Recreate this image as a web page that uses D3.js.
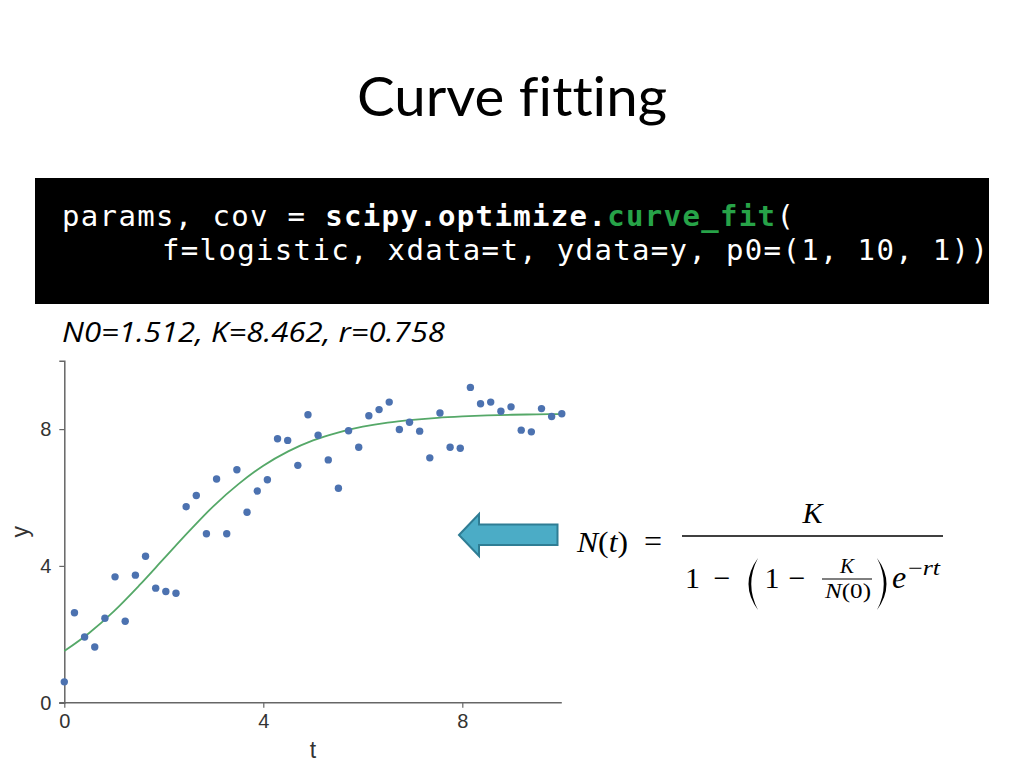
<!DOCTYPE html>
<html>
<head>
<meta charset="utf-8">
<script src="https://cdn.jsdelivr.net/npm/d3@7"></script>
<style>
  body { margin: 0; background: #fff; }
  svg text { white-space: pre; font-variant-ligatures: none; }
</style>
</head>
<body>
<svg id="slide" width="1024" height="768"></svg>
<script>
// observed data points (t, y)
const tValues = [0.000, 0.204, 0.408, 0.612, 0.816, 1.020, 1.224, 1.429, 1.633, 1.837,
                 2.041, 2.245, 2.449, 2.653, 2.857, 3.061, 3.265, 3.469, 3.673, 3.878,
                 4.082, 4.286, 4.490, 4.694, 4.898, 5.102, 5.306, 5.510, 5.714, 5.918,
                 6.122, 6.327, 6.531, 6.735, 6.939, 7.143, 7.347, 7.551, 7.755, 7.959,
                 8.163, 8.367, 8.571, 8.776, 8.980, 9.184, 9.388, 9.592, 9.796, 10.000];
const yValues = [0.61, 2.63, 1.92, 1.63, 2.47, 3.68, 2.38, 3.73, 4.28, 3.35,
                 3.25, 3.20, 5.73, 6.06, 4.94, 6.54, 4.94, 6.81, 5.57, 6.19,
                 6.52, 7.72, 7.67, 6.94, 8.42, 7.82, 7.10, 6.27, 7.95, 7.47,
                 8.39, 8.57, 8.79, 7.99, 8.20, 7.94, 7.16, 8.47, 7.47, 7.44,
                 9.22, 8.74, 8.79, 8.52, 8.65, 7.97, 7.92, 8.60, 8.37, 8.45];

// fitted curve
const fitT = [0, 0.5, 1, 1.5, 2, 2.5, 3, 3.5, 4, 4.5, 5, 5.5, 6, 6.5, 7, 7.5, 8, 8.5, 9, 9.5, 10];
const fitY = [1.51, 2.04, 2.68, 3.42, 4.21, 5.00, 5.75, 6.39, 6.93, 7.35, 7.67, 7.90,
              8.07, 8.19, 8.27, 8.33, 8.37, 8.40, 8.42, 8.43, 8.44];

const xTicks = [0, 4, 8];
const yTicks = [0, 4, 8];

const svg = d3.select("#slide");

// title
svg.append("text")
    .attr("x", 512).attr("y", 116)
    .attr("text-anchor", "middle")
    .attr("font-family", "Lato, 'Open Sans', sans-serif")
    .attr("font-size", 54)
    .attr("textLength", 310).attr("lengthAdjust", "spacingAndGlyphs")
    .attr("fill", "#000")
    .text("Curve fitting");

// code block
svg.append("clipPath").attr("id", "codeClip")
    .append("rect").attr("x", 35).attr("y", 178).attr("width", 954).attr("height", 126);
svg.append("rect")
    .attr("x", 35).attr("y", 178).attr("width", 954).attr("height", 126)
    .attr("fill", "#000");

const code = svg.append("g").attr("clip-path", "url(#codeClip)")
    .attr("font-family", "'DejaVu Sans Mono', 'Liberation Mono', monospace")
    .attr("font-size", 29)
    .attr("letter-spacing", 1.34)
    .attr("fill", "#fff");

const line1 = code.append("text").attr("x", 62).attr("y", 226);
line1.append("tspan").text("params, cov = ");
line1.append("tspan").attr("font-weight", "bold").text("scipy.optimize.");
line1.append("tspan").attr("font-weight", "bold").attr("fill", "#27a348").text("curve_fit");
line1.append("tspan").text("(");

code.append("text").attr("x", 162).attr("y", 260)
    .text("f=logistic, xdata=t, ydata=y, p0=(1, 10, 1))");

// fitted parameters
svg.append("text")
    .attr("x", 62).attr("y", 342)
    .attr("font-family", "'Open Sans', Lato, sans-serif")
    .attr("font-style", "italic")
    .attr("font-size", 28)
    .attr("textLength", 383).attr("lengthAdjust", "spacingAndGlyphs")
    .attr("fill", "#000")
    .text("N0=1.512, K=8.462, r=0.758");

// chart
const x = d3.scaleLinear().domain([0, 10]).range([64.3, 561.8]);
const y = d3.scaleLinear().domain([0, 10]).range([702.7, 360.7]);

const axisColor = "#666";

const gx = svg.append("g").attr("transform", `translate(0,${y(0)})`)
    .call(d3.axisBottom(x).tickValues(xTicks).tickSize(5).tickPadding(6).tickFormat(d3.format("d")));
const gy = svg.append("g").attr("transform", `translate(${x(0)},0)`)
    .call(d3.axisLeft(y).tickValues(yTicks).tickSize(5).tickPadding(8).tickFormat(d3.format("d")));

[gx, gy].forEach(g => {
    g.select(".domain").attr("stroke", axisColor).attr("stroke-width", 1.5);
    g.selectAll(".tick line").attr("stroke", axisColor).attr("stroke-width", 1.2);
    g.selectAll(".tick text")
        .attr("fill", "#333")
        .attr("font-family", "'Liberation Sans', Arial, sans-serif")
        .attr("font-size", 20);
});
gx.select(".domain").attr("d", `M${x(0) - 5},0H${x(10)}`);

svg.append("text")
    .attr("x", (x(0) + x(10)) / 2).attr("y", 758)
    .attr("text-anchor", "middle")
    .attr("font-family", "'Liberation Sans', Arial, sans-serif")
    .attr("font-size", 23).attr("fill", "#333")
    .text("t");
svg.append("text")
    .attr("transform", `translate(28,${(y(0) + y(10)) / 2}) rotate(-90)`)
    .attr("text-anchor", "middle")
    .attr("font-family", "'Liberation Sans', Arial, sans-serif")
    .attr("font-size", 23).attr("fill", "#333")
    .text("y");

const fit = d3.line()
    .x((d, i) => x(fitT[i]))
    .y(d => y(d))
    .curve(d3.curveMonotoneX);
svg.append("path")
    .attr("d", fit(fitY))
    .attr("fill", "none")
    .attr("stroke", "#55a868")
    .attr("stroke-width", 1.8);

svg.append("g").selectAll("circle")
    .data(yValues)
    .join("circle")
    .attr("cx", (d, i) => x(tValues[i]))
    .attr("cy", d => y(d))
    .attr("r", 3.7)
    .attr("fill", "#4c72b0");

// arrow pointing at the plot
svg.append("path")
    .attr("d", "M459,535 L479,514 L479,524.5 L557.5,524.5 L557.5,545 L479,545 L479,556 Z")
    .attr("fill", "#4bacc6")
    .attr("stroke", "#2f7d94")
    .attr("stroke-width", 2)
    .attr("stroke-linejoin", "miter");

// logistic formula
const serif = "'Liberation Serif', 'DejaVu Serif', serif";
const eq = svg.append("g").attr("font-family", serif).attr("fill", "#000");

function mathText(parent, px, py, size, parts, opts = {}) {
    const t = parent.append("text").attr("x", px).attr("y", py).attr("font-size", size);
    if (opts.anchor) t.attr("text-anchor", opts.anchor);
    if (opts.length) t.attr("textLength", opts.length).attr("lengthAdjust", "spacingAndGlyphs");
    parts.forEach(([s, it]) => t.append("tspan").attr("font-style", it ? "italic" : "normal").text(s));
    return t;
}

mathText(eq, 577, 552, 30, [["N", 1], ["(", 0], ["t", 1], [")", 0]], { length: 51 });
mathText(eq, 653, 552, 32, [["=", 0]], { anchor: "middle" });

eq.append("line").attr("x1", 682).attr("x2", 943).attr("y1", 536).attr("y2", 536)
    .attr("stroke", "#000").attr("stroke-width", 1.3);
mathText(eq, 812.5, 523, 30, [["K", 1]], { anchor: "middle" });

mathText(eq, 692.5, 588, 30, [["1", 0]], { anchor: "middle" });
mathText(eq, 722, 588, 30, [["\u2212", 0]], { anchor: "middle" });
mathText(eq, 772, 588, 30, [["1", 0]], { anchor: "middle" });
mathText(eq, 797, 588, 30, [["\u2212", 0]], { anchor: "middle" });

// tall parentheses
eq.append("path").attr("d", "M758,558 Q739,584 758,610 Q744.5,584 758,558 Z");
eq.append("path").attr("d", "M877,558 Q896,584 877,610 Q890.5,584 877,558 Z");

eq.append("line").attr("x1", 822).attr("x2", 872).attr("y1", 579).attr("y2", 579)
    .attr("stroke", "#000").attr("stroke-width", 1);
mathText(eq, 847, 573, 21, [["K", 1]], { anchor: "middle" });
mathText(eq, 825, 598, 22, [["N", 1], ["(0)", 0]], { length: 46 });

mathText(eq, 892, 588, 32, [["e", 1]]);
mathText(eq, 908, 575, 21, [["\u2212", 0], ["rt", 1]], { length: 32 });
</script>
</body>
</html>
